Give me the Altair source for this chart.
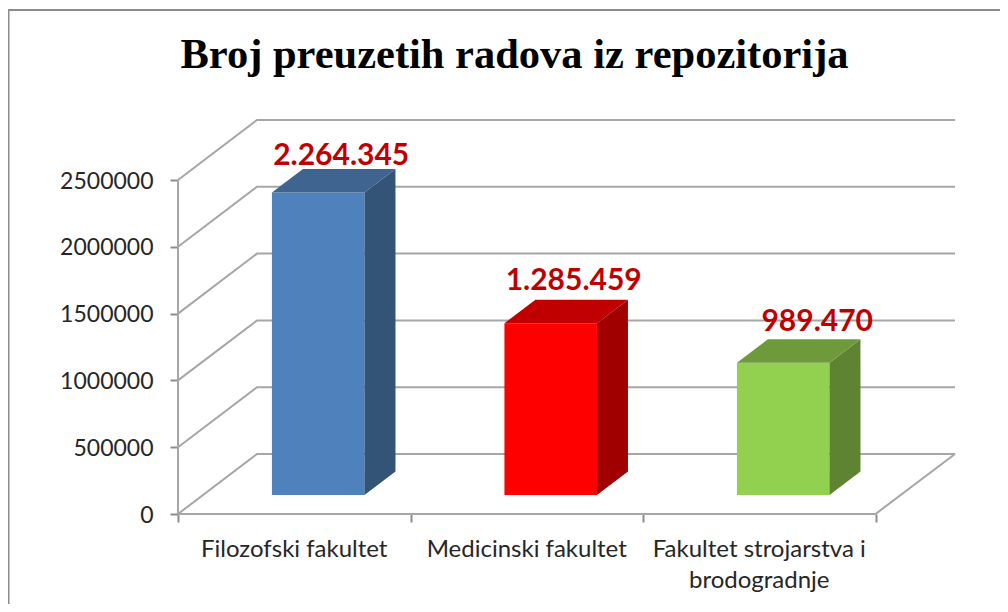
import altair as alt
import pandas as pd

categories = ["Filozofski fakultet", "Medicinski fakultet", "Fakultet strojarstva i\nbrodogradnje"]
values = [2264345, 1285459, 989470]
value_labels = ["2.264.345", "1.285.459", "989.470"]
y_ticks = [0, 500000, 1000000, 1500000, 2000000, 2500000]
x_ticks = [0, 1, 2, 3]
front_colors = ["#4f81bd", "#ff0000", "#92d050"]
side_colors = ["#335377", "#a00000", "#5f8431"]
top_colors = ["#3f6490", "#c00000", "#6f9a3c"]

PX_X = 232.5                 # pixels per category
PX_Y = 334 / 2500000         # pixels per unit of value
WALL_X = 79 / PX_X           # depth of the floor, in axis units
WALL_Y = 60 / PX_Y
BAR_LEFT, BAR_RIGHT = 0.404, 0.802
BAR_BASE = 19 / PX_Y
BAR_DX = 31 / PX_X
BAR_DY = 23.5 / PX_Y
LABEL_NUDGE = [(23, 13), (23, 19), (34, 17)]   # pixels, hand-placed labels
X_MAX = 777 / PX_X
Y_MAX = 394 / PX_Y

grid_rows = []
for t in y_ticks:
    grid_rows += [
        dict(line=f"g{t}", step=0, x=0, y=t),
        dict(line=f"g{t}", step=1, x=WALL_X, y=t + WALL_Y),
        dict(line=f"g{t}", step=2, x=X_MAX, y=t + WALL_Y),
    ]
grid_rows += [
    dict(line="floor", step=0, x=0, y=0),
    dict(line="floor", step=1, x=3, y=0),
    dict(line="floor", step=2, x=X_MAX, y=WALL_Y),
    dict(line="wall", step=0, x=0, y=0),
    dict(line="wall", step=1, x=0, y=2500000),
]
grid = pd.DataFrame(grid_rows)

front, side, top, labels, cats = [], [], [], [], []
for i, v in enumerate(values):
    x0, x1 = i + BAR_LEFT, i + BAR_RIGHT
    y0, y1 = BAR_BASE, BAR_BASE + v
    front.append(dict(x=x0, x2=x1, y=y0, y2=y1, c=front_colors[i]))
    side += [
        dict(b=i, x=x1, y=y0, y2=y1, c=side_colors[i]),
        dict(b=i, x=x1 + BAR_DX, y=y0 + BAR_DY, y2=y1 + BAR_DY, c=side_colors[i]),
    ]
    top += [
        dict(b=i, y=y1, x=x0, x2=x1, c=top_colors[i]),
        dict(b=i, y=y1 + BAR_DY, x=x0 + BAR_DX, x2=x1 + BAR_DX, c=top_colors[i]),
    ]
    nx, ny = LABEL_NUDGE[i]
    labels.append(dict(x=(x0 + x1) / 2 + nx / PX_X, y=y1 + BAR_DY + ny / PX_Y, t=value_labels[i]))
    cats.append(dict(x=i + 0.5, y=0, t=categories[i]))

xs = alt.Scale(domain=[0, X_MAX], nice=False, zero=False)
ys = alt.Scale(domain=[0, Y_MAX], nice=False, zero=False)
X = alt.X("x:Q", scale=xs, title=None,
          axis=alt.Axis(values=x_ticks, labels=False, domain=False, grid=False,
                        tickSize=8, tickWidth=2, tickColor="#8c8c8c"))
Y = alt.Y("y:Q", scale=ys, title=None,
          axis=alt.Axis(values=y_ticks, domain=False, grid=False, format="d",
                        tickSize=8, tickWidth=2, tickColor="#8c8c8c", labelPadding=17,
                        labelOffset=1,
                        labelFont="Lato", labelFontSize=23, labelColor="#262626"))
FILL = alt.Color("c:N", scale=None)

grid_layer = alt.Chart(grid).mark_line(color="#a6a6a6", strokeWidth=2).encode(
    x=X, y=Y, detail="line:N", order="step:Q")
front_layer = alt.Chart(pd.DataFrame(front)).mark_rect().encode(
    x=X, x2="x2:Q", y=Y, y2="y2:Q", color=FILL)
side_layer = alt.Chart(pd.DataFrame(side)).mark_area(orient="vertical", opacity=1).encode(
    x=X, y=Y, y2="y2:Q", color=FILL, detail="b:N")
top_layer = alt.Chart(pd.DataFrame(top)).mark_area(orient="horizontal", opacity=1).encode(
    y=Y, x=X, x2="x2:Q", color=FILL, detail="b:N")
label_layer = alt.Chart(pd.DataFrame(labels)).mark_text(
    font="Lato", fontWeight="bold", fontSize=30, color="#c00000").encode(x=X, y=Y, text="t:N")
cat_layer = alt.Chart(pd.DataFrame(cats)).mark_text(
    font="Lato", fontSize=24, color="#262626", baseline="top", dy=24,
    lineBreak="\n", lineHeight=31).encode(x=X, y=Y, text="t:N")

left_border = alt.Chart(pd.DataFrame({"a": [0]})).mark_rule(color="#8c8c8c", strokeWidth=2).encode(
    x=alt.value(-169.5), y=alt.value(-110), y2=alt.value(484))
top_border = alt.Chart(pd.DataFrame({"a": [0]})).mark_rule(color="#8c8c8c", strokeWidth=2).encode(
    x=alt.value(-170), x2=alt.value(822), y=alt.value(-110))

chart = alt.layer(
    left_border, top_border, grid_layer, front_layer, side_layer, top_layer, label_layer, cat_layer
).properties(
    width=777, height=394,
    background="white",
    autosize=alt.AutoSizeParams(type="none", contains="content"),
    padding={"left": 170, "top": 112, "right": 45, "bottom": 90},
    title=alt.TitleParams("Broj preuzetih radova iz repozitorija", font="Liberation Serif",
                          fontSize=42.5, fontWeight="bold", color="black", anchor="middle",
                          offset=-101, dx=-52, baseline="alphabetic"),
).configure_view(stroke=None)

chart.save("out.html", embed_options={"renderer": "svg", "actions": False})
